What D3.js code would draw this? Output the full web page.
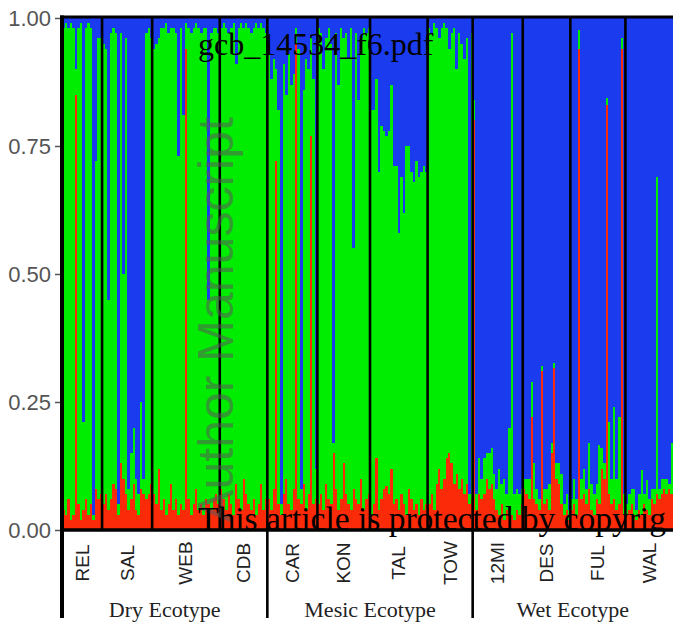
<!DOCTYPE html>
<html>
<head>
<meta charset="utf-8">
<script src="https://cdn.jsdelivr.net/npm/d3@7"></script>
<style>
  body { margin: 0; background: #fff; }
  svg { display: block; }
</style>
</head>
<body>
<div id="structure-chart"></div>
<script>
// population / ecotype layout
const popNames = ["REL", "SAL", "WEB", "CDB", "CAR", "KON", "TAL", "TOW", "12MI", "DES", "FUL", "WAL"];
const ecotypeNames = ["Dry Ecotype", "Mesic Ecotype", "Wet Ecotype"];
const popEcotype = [0, 0, 0, 0, 1, 1, 1, 1, 2, 2, 2, 2];
const yTicks = [0, 0.25, 0.5, 0.75, 1];

// ancestry per individual: red cluster (bottom) and blue cluster (top), green is the rest
const relRed  = [0.04,0.03,0.06,0.02,0.03,0.85,0.05,0.02,0.04,0.06,0.03,0.05,0.02,0.08,0.06,0.07];
const relBlue = [0.02,0.01,0.02,0.01,0.02,0.10,0.02,0.01,0.79,0.02,0.01,0.02,0.97,0.28,0.04,0.04];

const salRed  = [0.05,0.07,0.04,0.06,0.09,0.08,0.03,0.13,0.10,0.07,0.04,0.06,0.09,0.04,0.03,0.08,0.07,0.06,0.07,0.09];
const salBlue = [0.05,0.06,0.55,0.03,0.02,0.03,0.95,0.03,0.50,0.04,0.92,0.85,0.80,0.90,0.93,0.75,0.90,0.03,0.02,0.04];

const webRed  = [0.07,0.05,0.12,0.04,0.06,0.03,0.05,0.09,0.04,0.06,0.03,0.05,0.04,0.94,0.06,0.03,0.05,0.08,0.04,0.05,0.03,0.06,0.05,0.04,0.06,0.07,0.05];
const webBlue = [0.06,0.05,0.04,0.02,0.02,0.01,0.03,0.02,0.02,0.03,0.27,0.02,0.19,0.01,0.02,0.03,0.02,0.01,0.02,0.03,0.02,0.02,0.55,0.03,0.02,0.02,0.03];

const cdbRed  = [0.08,0.06,0.04,0.07,0.05,0.03,0.09,0.06,0.04,0.10,0.07,0.05,0.04,0.06,0.03,0.05,0.09,0.04,0.06];
const cdbBlue = [0.02,0.01,0.02,0.03,0.02,0.01,0.09,0.02,0.01,0.02,0.01,0.02,0.03,0.02,0.01,0.02,0.01,0.02,0.03];

const carRed  = [0.06,0.04,0.08,0.72,0.05,0.03,0.07,0.10,0.05,0.04,0.08,0.95,0.06,0.05,0.09,0.04,0.07,0.77,0.05,0.06];
const carBlue = [0.05,0.12,0.08,0.10,0.18,0.95,0.09,0.15,0.07,0.13,0.11,0.02,0.06,0.92,0.14,0.08,0.10,0.04,0.12,0.88];

const konRed  = [0.05,0.07,0.04,0.09,0.06,0.05,0.15,0.08,0.04,0.06,0.13,0.07,0.05,0.04,0.08,0.06,0.05,0.10,0.04,0.06,0.07];
const konBlue = [0.02,0.03,0.10,0.04,0.02,0.05,0.83,0.03,0.13,0.02,0.04,0.03,0.08,0.02,0.45,0.03,0.16,0.04,0.02,0.03,0.02];

const talRed  = [0.03,0.05,0.14,0.04,0.06,0.08,0.085,0.07,0.12,0.05,0.06,0.04,0.07,0.05,0.03,0.08,0.06,0.04,0.05,0.03,0.06,0.04,0.05];
const talBlue = [0.18,0.18,0.12,0.30,0.21,0.22,0.23,0.22,0.13,0.29,0.29,0.42,0.31,0.38,0.25,0.25,0.30,0.32,0.28,0.31,0.30,0.29,0.30];

const towRed  = [0.05,0.07,0.04,0.09,0.12,0.08,0.10,0.14,0.15,0.13,0.09,0.11,0.08,0.10,0.07,0.09,0.05,0.06];
const towBlue = [0.02,0.03,0.01,0.02,0.04,0.02,0.01,0.02,0.06,0.03,0.02,0.10,0.03,0.05,0.08,0.04,0.93,0.03];

const mi12Red  = [0.80,0.04,0.07,0.06,0.07,0.10,0.08,0.09,0.06,0.04,0.03,0.05,0.02,0.04,0.03,0.03,0.02,0.04,0.03,0.05];
const mi12Blue = [0.16,0.93,0.86,0.90,0.86,0.85,0.85,0.84,0.89,0.92,0.88,0.91,0.90,0.93,0.80,0.03,0.93,0.92,0.93,0.92];

const desRed  = [0.08,0.07,0.06,0.22,0.06,0.05,0.04,0.31,0.05,0.06,0.04,0.15,0.316,0.10,0.09,0.05,0.03,0.04,0.02];
const desBlue = [0.90,0.90,0.90,0.71,0.87,0.92,0.94,0.68,0.92,0.92,0.91,0.83,0.674,0.87,0.87,0.89,0.95,0.93,0.96];

const fulRed  = [0.04,0.05,0.03,0.94,0.06,0.07,0.05,0.08,0.04,0.03,0.06,0.05,0.12,0.10,0.83,0.07,0.05,0.06,0.04,0.05,0.94,0.03];
const fulBlue = [0.94,0.90,0.94,0.023,0.90,0.88,0.92,0.83,0.91,0.93,0.91,0.834,0.84,0.87,0.156,0.79,0.90,0.76,0.90,0.78,0.04,0.93];

const walRed  = [0.03,0.04,0.05,0.03,0.02,0.04,0.03,0.05,0.04,0.03,0.06,0.05,0.07,0.06,0.07,0.08,0.07,0.08,0.07];
const walBlue = [0.95,0.93,0.92,0.92,0.96,0.93,0.883,0.93,0.902,0.94,0.92,0.92,0.31,0.92,0.90,0.90,0.90,0.91,0.83];

const redByPop  = [relRed, salRed, webRed, cdbRed, carRed, konRed, talRed, towRed, mi12Red, desRed, fulRed, walRed];
const blueByPop = [relBlue, salBlue, webBlue, cdbBlue, carBlue, konBlue, talBlue, towBlue, mi12Blue, desBlue, fulBlue, walBlue];

(function () {
  const W = 673, H = 624;
  const plotLeft = 62, plotRight = 673, plotTop = 18, plotBase = 530, panelBottom = 618;
  const colors = { red: "#fb2a08", green: "#00ec00", blue: "#1b3bef" };

  // one row per individual
  const rows = [];
  const popStart = [];
  popNames.forEach((p, k) => {
    popStart.push(rows.length);
    redByPop[k].forEach((r, j) => {
      const b = blueByPop[k][j];
      rows.push({ pop: p, red: r, green: Math.max(0, 1 - r - b), blue: b });
    });
  });
  popStart.push(rows.length);

  const svg = d3.select("#structure-chart").append("svg")
    .attr("width", W)
    .attr("height", H);

  const x = d3.scaleBand()
    .domain(d3.range(rows.length))
    .range([plotLeft, plotRight])
    .padding(0);

  const y = d3.scaleLinear()
    .domain([0, 1])
    .range([plotBase, plotTop]);

  const series = d3.stack().keys(["red", "green", "blue"])(rows);

  svg.append("g")
    .selectAll("g")
    .data(series)
    .join("g")
    .attr("fill", d => colors[d.key])
    .selectAll("rect")
    .data(d => d)
    .join("rect")
    .attr("x", (d, i) => x(i))
    .attr("y", d => y(d[1]))
    .attr("width", x.bandwidth() + 0.4)
    .attr("height", d => y(d[0]) - y(d[1]))
    .attr("shape-rendering", "crispEdges");

  // population separators
  const edgeX = i => (i >= rows.length ? plotRight : x(i));
  const ecoStarts = [4, 8];
  svg.append("g")
    .selectAll("line")
    .data(popStart.slice(1, -1))
    .join("line")
    .attr("x1", d => edgeX(d)).attr("x2", d => edgeX(d))
    .attr("y1", plotTop - 2)
    .attr("y2", (d, i) => ecoStarts.includes(i + 1) ? panelBottom : plotBase)
    .attr("stroke", "#000")
    .attr("stroke-width", 2.6);

  // frame
  svg.append("line").attr("x1", plotLeft - 2).attr("x2", plotRight).attr("y1", plotTop - 1).attr("y2", plotTop - 1)
    .attr("stroke", "#000").attr("stroke-width", 3);
  svg.append("line").attr("x1", plotLeft - 2).attr("x2", plotRight).attr("y1", plotBase).attr("y2", plotBase)
    .attr("stroke", "#000").attr("stroke-width", 3.5);
  svg.append("line").attr("x1", plotLeft).attr("x2", plotLeft).attr("y1", plotTop - 2.5).attr("y2", panelBottom)
    .attr("stroke", "#000").attr("stroke-width", 4);

  // y axis
  const yAxis = svg.append("g")
    .attr("transform", `translate(${plotLeft - 2},0)`)
    .call(d3.axisLeft(y).tickValues(yTicks).tickFormat(d3.format(".2f")).tickSize(5).tickPadding(4));
  yAxis.select(".domain").remove();
  yAxis.selectAll(".tick line").attr("stroke", "#555").attr("stroke-width", 1.5);
  yAxis.selectAll(".tick text")
    .attr("fill", "#555")
    .style("font-family", "Liberation Sans, Arial, sans-serif")
    .style("font-size", "22px");

  // population labels
  svg.append("g")
    .selectAll("text")
    .data(popNames)
    .join("text")
    .attr("transform", (d, k) => {
      const cx = (edgeX(popStart[k]) + edgeX(popStart[k + 1])) / 2;
      return `translate(${cx},563) rotate(-90)`;
    })
    .attr("text-anchor", "middle")
    .attr("dominant-baseline", "central")
    .attr("fill", "#222")
    .style("font-family", "Liberation Sans, Arial, sans-serif")
    .style("font-size", "19px")
    .text(d => d);

  // ecotype labels
  svg.append("g")
    .selectAll("text")
    .data(ecotypeNames)
    .join("text")
    .attr("x", (d, e) => {
      const ks = popEcotype.map((v, k) => v === e ? k : -1).filter(k => k >= 0);
      return (edgeX(popStart[ks[0]]) + edgeX(popStart[ks[ks.length - 1] + 1])) / 2;
    })
    .attr("y", 617)
    .attr("text-anchor", "middle")
    .attr("fill", "#222")
    .style("font-family", "Liberation Serif, Times New Roman, serif")
    .style("font-size", "22px")
    .text(d => d);

  // manuscript watermarks
  svg.append("text")
    .attr("transform", "translate(233,320) rotate(-90)")
    .attr("text-anchor", "middle")
    .attr("fill", "#5a5a5a")
    .attr("opacity", 0.55)
    .style("font-family", "Liberation Sans, Arial, sans-serif")
    .style("font-size", "50px")
    .text("Author Manuscript");

  svg.append("text")
    .attr("x", 198).attr("y", 55)
    .attr("fill", "#000")
    .style("font-family", "Liberation Serif, Times New Roman, serif")
    .style("font-size", "32px")
    .text("gcb_14534_f6.pdf");

  svg.append("text")
    .attr("x", 198).attr("y", 530)
    .attr("fill", "#000")
    .style("font-family", "Liberation Serif, Times New Roman, serif")
    .style("font-size", "33.5px")
    .text("This article is protected by copyrig");
})();
</script>
</body>
</html>
